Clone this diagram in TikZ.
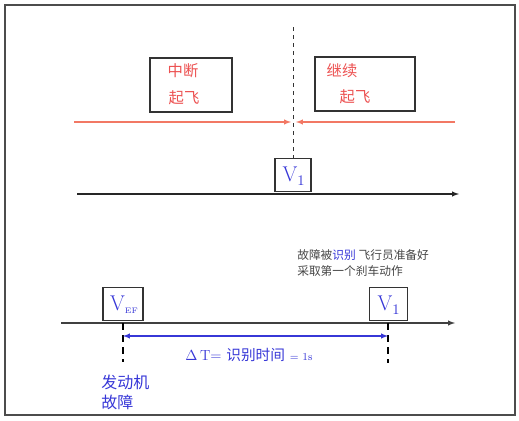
\documentclass[tikz,border=0pt]{standalone}
\usepackage{fontspec}
\usepackage{amsmath}
\newfontfamily\cjk{Noto Sans CJK SC}
\definecolor{redtxt}{RGB}{236,80,80}
\definecolor{redline}{RGB}{242,120,100}
\definecolor{bluetxt}{RGB}{55,55,215}
\definecolor{graytxt}{RGB}{70,70,70}
\begin{document}
\begin{tikzpicture}
[x=0.75pt, y=-0.75pt, >=latex,
box/.style={draw=black!80, thick, minimum width=#1, minimum height=25pt, inner sep=0pt},
bigbox/.style={draw=black!80, thick, minimum width=#1, minimum height=40.5pt, inner sep=0pt},
redword/.style={text=redtxt, font=\cjk\fontsize{11.5}{14}\selectfont, inner sep=0pt},
vel/.style={text=bluetxt, font=\fontsize{16}{18}\selectfont, inner sep=0pt},
tick/.style={line width=1.3pt, dash pattern=on 5pt off 4pt}]
\useasboundingbox (0,0) rectangle (519,421);
\draw [black!70, thick] (5,5) rectangle (515,415);

% upper part: decision at V1
\draw (191,85) node[bigbox=61.5pt] (abort) {};
\draw (365,84) node[bigbox=75pt] (goon) {};
\draw (183,71) node[redword] (abortA) {中断};
\draw (184,98) node[redword] (abortB) {起飞};
\draw (342,71) node[redword] (goonA) {继续};
\draw (355,97) node[redword] (goonB) {起飞};

\draw (293,175) node[box=27pt] (vone) {};
\draw (294,176) node[vel] (voneT) {$\mathrm{V}_{1}$};
\coordinate (dtop) at (293,27);
\draw [dashed, black!80] (dtop) to (vone.north);

\coordinate (redL) at (74,122);  \coordinate (redLend) at (291,122);
\coordinate (redR) at (455,122); \coordinate (redRend) at (296,122);
\draw [->, redline, thick] (redL) to (redLend);
\draw [->, redline, thick] (redR) to (redRend);

\coordinate (axA) at (77,194); \coordinate (axB) at (459,194);
\draw [->, black!85, thick] (axA) to (axB);

% lower part: recognition time
\draw (297,255) node[anchor=west, inner sep=0pt, text=graytxt, font=\cjk\fontsize{8.8}{11}\selectfont] (noteA) {故障被\textcolor{bluetxt}{识别} 飞行员准备好};
\draw (297,271) node[anchor=west, inner sep=0pt, text=graytxt, font=\cjk\fontsize{8.8}{11}\selectfont] (noteB) {采取第一个刹车动作};

\draw (123,304) node[box=30pt] (vef) {};
\draw (124,305) node[vel] (vefT) {V\raisebox{-0.3ex}{\fontsize{6}{7}\selectfont EF}};
\draw (388.5,304) node[box=28pt] (vtwo) {};
\draw (389,305) node[vel] (vtwoT) {$\mathrm{V}_{1}$};

\coordinate (bxA) at (61,323); \coordinate (bxB) at (455,323);
\draw [->, black!75, thick] (bxA) to (bxB);

\coordinate (tA) at (123,323); \coordinate (tAend) at (123,362);
\coordinate (tB) at (388,323); \coordinate (tBend) at (388,363);
\draw [tick] (tA) to (tAend);
\draw [tick] (tB) to (tBend);

\coordinate (dA) at (123,336); \coordinate (dB) at (388,336);
\draw [<->, bluetxt, thick] (dA) to (dB);
\draw (249,355) node[text=bluetxt, inner sep=0pt] (dt) {\fontsize{11}{13}\selectfont $\Delta$\,T= {\cjk 识别时间} {\fontsize{8}{10}\selectfont = 1s}};

\draw (101,375) node[anchor=north west, align=left, inner sep=0pt, text=bluetxt, font=\cjk\fontsize{12}{14.5}\selectfont] (fail) {发动机\\故障};
\end{tikzpicture}
\end{document}
